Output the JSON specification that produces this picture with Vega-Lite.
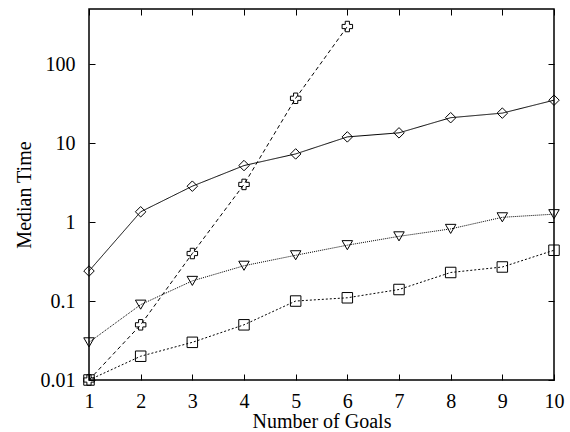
{
  "$schema": "https://vega.github.io/schema/vega-lite/v6.json",
  "width": 465,
  "height": 371,
  "autosize": "none",
  "padding": {"left": 89, "top": 9, "right": 16, "bottom": 52},
  "view": {"stroke": "#000000", "strokeWidth": 1.5},
  "data": {
    "values": [
      {"series": "Lplan", "goals": 1, "time": 0.24},
      {"series": "Lplan", "goals": 2, "time": 1.35},
      {"series": "Lplan", "goals": 3, "time": 2.85},
      {"series": "Lplan", "goals": 4, "time": 5.2},
      {"series": "Lplan", "goals": 5, "time": 7.3},
      {"series": "Lplan", "goals": 6, "time": 12},
      {"series": "Lplan", "goals": 7, "time": 13.5},
      {"series": "Lplan", "goals": 8, "time": 21},
      {"series": "Lplan", "goals": 9, "time": 24},
      {"series": "Lplan", "goals": 10, "time": 35},
      {"series": "Graphplan", "goals": 1, "time": 0.03},
      {"series": "Graphplan", "goals": 2, "time": 0.09},
      {"series": "Graphplan", "goals": 3, "time": 0.18},
      {"series": "Graphplan", "goals": 4, "time": 0.28},
      {"series": "Graphplan", "goals": 5, "time": 0.38},
      {"series": "Graphplan", "goals": 6, "time": 0.51},
      {"series": "Graphplan", "goals": 7, "time": 0.66},
      {"series": "Graphplan", "goals": 8, "time": 0.82},
      {"series": "Graphplan", "goals": 9, "time": 1.15},
      {"series": "Graphplan", "goals": 10, "time": 1.26},
      {"series": "Satplan", "goals": 1, "time": 0.01},
      {"series": "Satplan", "goals": 2, "time": 0.02},
      {"series": "Satplan", "goals": 3, "time": 0.03},
      {"series": "Satplan", "goals": 4, "time": 0.05},
      {"series": "Satplan", "goals": 5, "time": 0.1},
      {"series": "Satplan", "goals": 6, "time": 0.11},
      {"series": "Satplan", "goals": 7, "time": 0.14},
      {"series": "Satplan", "goals": 8, "time": 0.23},
      {"series": "Satplan", "goals": 9, "time": 0.27},
      {"series": "Satplan", "goals": 10, "time": 0.44},
      {"series": "UCPOP", "goals": 1, "time": 0.01},
      {"series": "UCPOP", "goals": 2, "time": 0.05},
      {"series": "UCPOP", "goals": 3, "time": 0.4},
      {"series": "UCPOP", "goals": 4, "time": 3.0},
      {"series": "UCPOP", "goals": 5, "time": 37},
      {"series": "UCPOP", "goals": 6, "time": 300}
    ]
  },
  "layer": [
    {
      "mark": {"type": "line", "color": "black", "strokeWidth": 1},
      "encoding": {
        "x": {
          "field": "goals", "type": "quantitative",
          "scale": {"domain": [1, 10], "nice": false, "zero": false},
          "axis": {"values": [1,2,3,4,5,6,7,8,9,10], "format": "d", "title": "Number of Goals", "titlePadding": 0, "labelPadding": 17, "tickSize": -6, "tickColor": "#000000", "tickWidth": 1, "domain": false, "gridOpacity": 0, "labelFlush": false, "labelFont": "Liberation Serif", "titleFont": "Liberation Serif", "labelFontSize": 20, "titleFontSize": 20, "titleFontWeight": "normal", "labelColor": "#000000", "titleColor": "#000000"}
        },
        "y": {
          "field": "time", "type": "quantitative",
          "scale": {"type": "log", "domain": [0.01, 500], "nice": false},
          "axis": {"values": [0.01, 0.1, 1, 10, 100], "format": "~g", "title": "Median Time", "titlePadding": 6, "labelPadding": 20, "tickSize": -6, "tickColor": "#000000", "tickWidth": 1, "domain": false, "gridOpacity": 0, "labelFlush": false, "labelFont": "Liberation Serif", "titleFont": "Liberation Serif", "labelFontSize": 20, "titleFontSize": 20, "titleFontWeight": "normal", "labelColor": "#000000", "titleColor": "#000000"}
        },
        "strokeDash": {
          "field": "series", "type": "nominal",
          "scale": {"domain": ["Lplan", "Graphplan", "Satplan", "UCPOP"], "range": [[1, 0], [1, 1], [2, 2], [4, 3]]},
          "legend": null
        }
      }
    },
    {
      "mark": {"type": "point", "filled": false, "color": "black", "size": 110, "strokeWidth": 1, "opacity": 1},
      "encoding": {
        "x": {"field": "goals", "type": "quantitative", "axis": null},
        "y": {"field": "time", "type": "quantitative", "axis": null},
        "shape": {
          "field": "series", "type": "nominal",
          "scale": {
            "domain": ["Lplan", "Graphplan", "Satplan", "UCPOP"],
            "range": ["diamond", "triangle-down", "square", "cross"]
          },
          "legend": {
            "title": " ",
            "titleFontSize": 1,
            "titlePadding": 0,
            "orient": "none",
            "legendX": 417,
            "legendY": 7,
            "labelFont": "Liberation Serif",
            "labelFontSize": 20,
            "labelColor": "#000000",
            "symbolSize": 100,
            "symbolStrokeColor": "#000000",
            "symbolStrokeWidth": 1,
            "labelAlign": "right",
            "labelOffset": -30,
            "rowPadding": 1
          }
        }
      }
    },
    {
      "mark": {"type": "point", "opacity": 0},
      "encoding": {
        "x": {"field": "goals", "type": "quantitative", "axis": {"orient": "top", "tickSize": -6, "tickColor": "#000000", "tickWidth": 1, "values": [1,2,3,4,5,6,7,8,9,10], "labels": false, "title": null, "domain": false, "gridOpacity": 0}},
        "y": {"field": "time", "type": "quantitative", "axis": {"orient": "right", "tickSize": -6, "tickColor": "#000000", "tickWidth": 1, "values": [0.01, 0.1, 1, 10, 100], "labels": false, "title": null, "domain": false, "gridOpacity": 0}}
      }
    }
  ],
  "resolve": {"axis": {"x": "independent", "y": "independent"}}
}
